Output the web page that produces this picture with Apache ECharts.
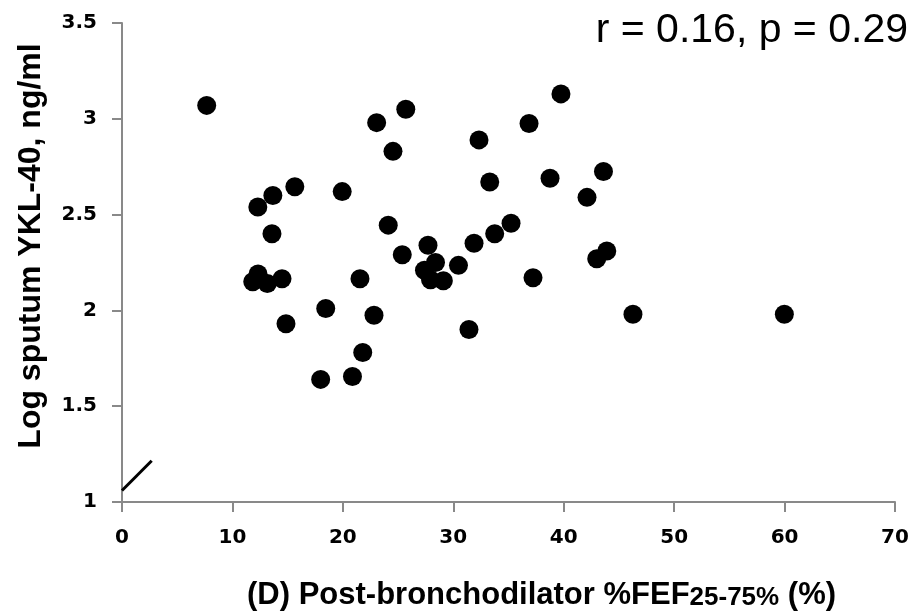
<!DOCTYPE html>
<html>
<head>
<meta charset="utf-8">
<script src="https://cdn.jsdelivr.net/npm/echarts@6/dist/echarts.min.js"></script>
<style>
html,body{margin:0;padding:0;background:#fff;}
#chart{width:915px;height:615px;}
</style>
</head>
<body>
<div id="chart"></div>
<script>
// Post-bronchodilator %FEF25-75% (x) vs Log sputum YKL-40 (y)
const fefValues = [7.67, 12.30, 13.66, 15.65, 19.94, 13.58, 23.06, 25.70, 24.54, 24.11, 25.38,
  12.32, 11.84, 13.16, 14.49, 21.55, 27.71, 28.39, 27.39, 27.94, 29.10, 30.47,
  31.88, 33.75, 35.23, 32.33, 36.86, 39.75, 33.30, 38.76, 43.60, 42.11, 43.90,
  42.99, 37.22, 31.42, 46.27, 59.98, 14.85, 18.45, 22.82, 21.80, 17.99, 20.87];
const ykl40Values = [3.07, 2.54, 2.60, 2.645, 2.62, 2.40, 2.98, 3.05, 2.83, 2.445, 2.29,
  2.19, 2.15, 2.14, 2.165, 2.165, 2.34, 2.25, 2.21, 2.16, 2.155, 2.235,
  2.35, 2.40, 2.455, 2.89, 2.975, 3.13, 2.67, 2.69, 2.725, 2.59, 2.31,
  2.27, 2.17, 1.90, 1.98, 1.98, 1.93, 2.01, 1.975, 1.78, 1.64, 1.655];
// axis-break mark near the origin
const breakMarkX = [0, 2.69];
const breakMarkY = [1.06, 1.215];

const xTicks = {min: 0, max: 70, interval: 10};
const yTicks = {min: 1, max: 3.5, interval: 0.5};

const yTitle = 'Log sputum YKL-40, ng/ml';
const xTitleMain = '(D) Post-bronchodilator %FEF';
const xTitleSub = '25-75%';
const xTitleEnd = ' (%)';
const statText = 'r = 0.16, p = 0.29';

const points = fefValues.map((x, i) => [x, ykl40Values[i]]);
const breakLine = breakMarkX.map((x, i) => [x, breakMarkY[i]]);

const axisColor = '#898989';
const tickFont = {fontFamily: 'DejaVu Sans', fontWeight: 'bold', fontSize: 20, color: '#000'};

const chart = echarts.init(document.getElementById('chart'), null, {renderer: 'canvas'});
chart.setOption({
  animation: false,
  backgroundColor: '#fff',
  grid: {left: 122, right: 20, top: 23, bottom: 113, containLabel: false},
  xAxis: {
    type: 'value', min: xTicks.min, max: xTicks.max, interval: xTicks.interval,
    axisLine: {show: true, onZero: false, lineStyle: {color: axisColor, width: 2}},
    axisTick: {show: true, inside: false, length: 10, lineStyle: {color: axisColor, width: 2}},
    axisLabel: Object.assign({margin: 26}, tickFont),
    splitLine: {show: false}
  },
  yAxis: {
    type: 'value', min: yTicks.min, max: yTicks.max, interval: yTicks.interval,
    axisLine: {show: true, onZero: false, lineStyle: {color: axisColor, width: 2}},
    axisTick: {show: true, inside: false, length: 10, lineStyle: {color: axisColor, width: 2}},
    axisLabel: Object.assign({margin: 25}, tickFont),
    splitLine: {show: false}
  },
  series: [
    {
      type: 'scatter',
      data: points,
      symbol: 'circle',
      symbolSize: 19,
      itemStyle: {color: '#000', opacity: 1},
      z: 3
    },
    {
      type: 'line',
      data: breakLine,
      symbol: 'none',
      lineStyle: {color: '#000', width: 3},
      z: 2
    }
  ],
  graphic: [
    {
      type: 'text', x: 31, y: 246, rotation: Math.PI / 2,
      style: {text: yTitle, fontFamily: 'Liberation Sans', fontWeight: 'bold', fontSize: 32,
        fill: '#000', align: 'center', verticalAlign: 'middle'}
    },
    {
      type: 'text', x: 247, y: 580,
      style: {
        text: '{a|' + xTitleMain + '}{b|' + xTitleSub + '}{a|' + xTitleEnd + '}',
        align: 'left', verticalAlign: 'top',
        rich: {
          a: {fontFamily: 'Liberation Sans', fontWeight: 'bold', fontSize: 31, fill: '#000', color: '#000', verticalAlign: 'bottom'},
          b: {fontFamily: 'Liberation Sans', fontWeight: 'bold', fontSize: 26, fill: '#000', color: '#000', verticalAlign: 'bottom'}
        }
      }
    },
    {
      type: 'text', x: 908, y: 51,
      style: {text: statText, fontFamily: 'Liberation Sans', fontSize: 41, fill: '#000',
        align: 'right', verticalAlign: 'bottom'}
    }
  ]
});
</script>
</body>
</html>
